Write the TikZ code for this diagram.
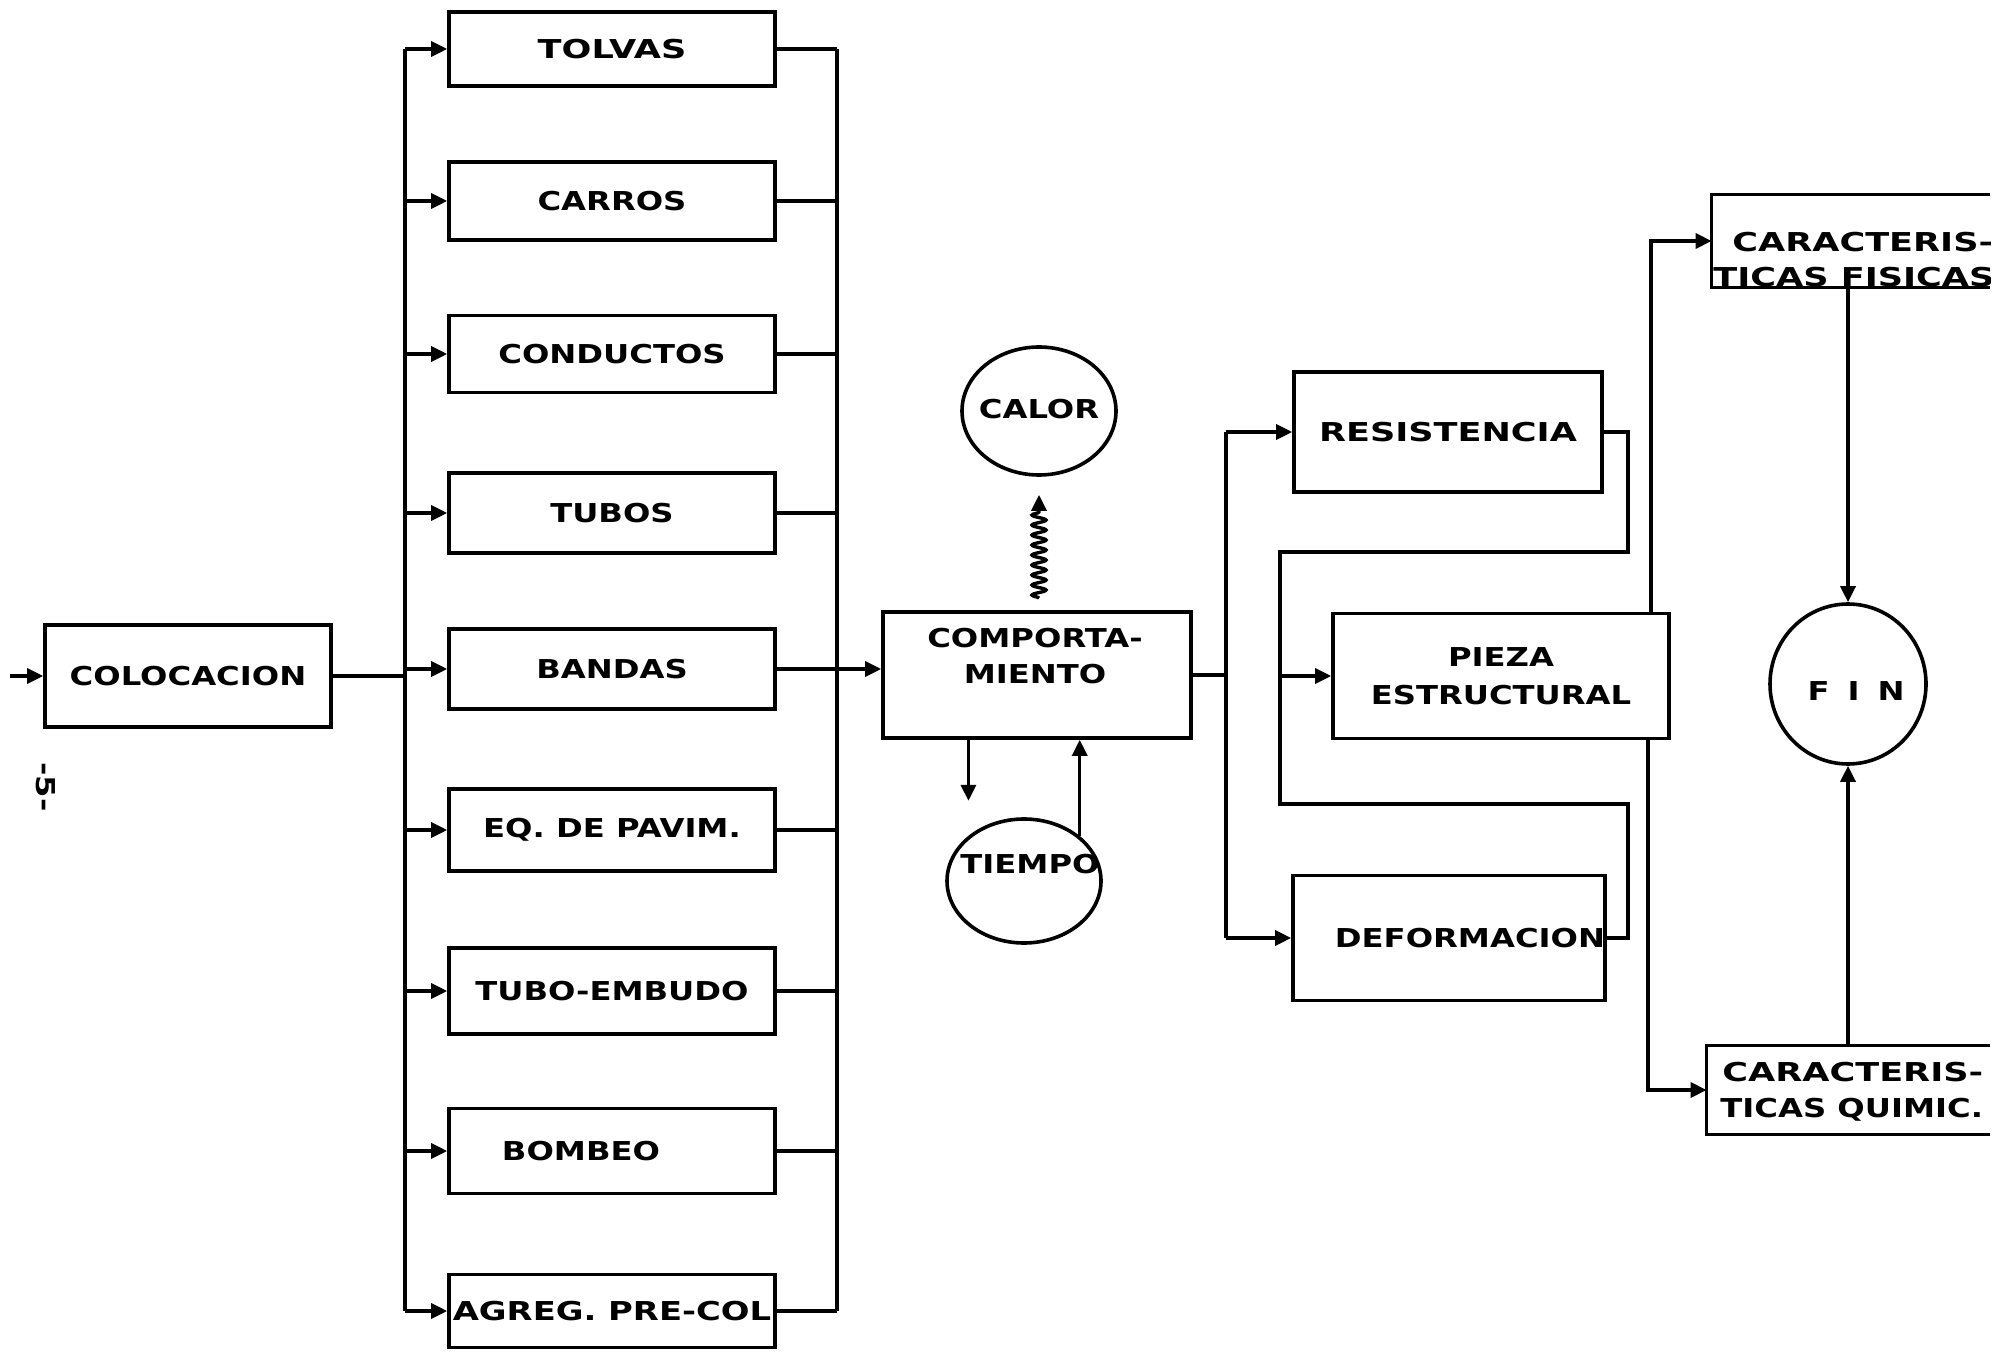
\documentclass[tikz,border=0pt]{standalone}
\usepackage{fontspec}
\newfontfamily\wf[FakeStretch=1.24]{DejaVu Sans Bold}
\newfontfamily\wfw[FakeStretch=1.35]{DejaVu Sans Bold}
\newfontfamily\wfm[FakeStretch=1.3]{DejaVu Sans Bold}
\usetikzlibrary{arrows.meta,decorations.pathmorphing,shapes.geometric,calc}
\begin{document}
\begin{tikzpicture}[x=0.5pt,y=-0.5pt,
  fnt/.style={font=\wf\fontsize{13pt}{18pt}\selectfont},
  fntw/.style={font=\wfw\fontsize{13pt}{18pt}\selectfont},
  box/.style={draw,line width=1.8pt,rectangle,inner sep=0pt,fnt},
  col/.style={box,minimum width=163pt},
  ring/.style={draw,line width=1.8pt,ellipse,inner sep=0pt},
  ln/.style={line width=1.7pt},
  arr/.style={ln,-{Triangle[length=8pt,width=7.5pt]}},
  txt/.style={inner sep=0pt,fnt}]
\useasboundingbox (0,0) rectangle (2013,1352);

% ---- left part ----
\node[box,minimum width=143pt,minimum height=51pt] (colo) at (188,676) {COLOCACION};
\coordinate (start) at (10,676);
\draw[arr] (start) -- (colo.west);
\node[txt,rotate=-90] (pnum) at (46,787) {-5-};

\node[col,minimum height=37pt,fntw] (tolvas) at (612,49) {TOLVAS};
\node[col,minimum height=39pt] (carros) at (612,201) {CARROS};
\node[col,minimum height=38.5pt] (cond) at (612,354) {CONDUCTOS};
\node[col,minimum height=40pt] (tubos) at (612,513) {TUBOS};
\node[col,minimum height=40pt] (bandas) at (612,669) {BANDAS};
\node[col,minimum height=41pt] (eq) at (612,830) {EQ. DE PAVIM.};
\node[col,minimum height=43pt] (tubemb) at (612,991) {TUBO-EMBUDO};
\node[col,minimum height=42.5pt] (bombeo) at (612,1151) {BOMBEO\hspace*{31pt}};
\node[col,minimum height=36.5pt,font=\wfm\fontsize{13pt}{18pt}\selectfont] (agreg) at (612,1311) {AGREG. PRE-COL};

\coordinate (lb) at (405,0);
\coordinate (rb) at (837,0);
\draw[ln] (colo.east) -- (colo.east -| lb);
\draw[ln] (lb |- tolvas.west) -- (lb |- agreg.west);
\draw[ln] (rb |- tolvas.east) -- (rb |- agreg.east);
\foreach \n in {tolvas,carros,cond,tubos,bandas,eq,tubemb,bombeo,agreg}{
  \draw[arr] (lb |- \n.west) -- (\n.west);
  \draw[ln] (\n.east) -- (\n.east -| rb);
}

% ---- centre ----
\node[box,minimum width=154pt,minimum height=63pt] (comp) at (1037,675) {};
\node[txt,align=center] (comptxt) at (1035,656) {COMPORTA-\\MIENTO};
\draw[arr] (bandas.east) -- (bandas.east -| comp.west);

\node[ring,minimum width=77pt,minimum height=64pt] (calor) at (1039,411) {};
\node[txt] (calortxt) at (1039,409) {CALOR};
\node[ring,minimum width=77pt,minimum height=62pt] (tiempo) at (1024,881) {};
\node[txt] (tiempotxt) at (1030,864) {TIEMPO};

\draw[arr,decorate,decoration={snake,amplitude=3.5pt,segment length=5pt,post length=7pt}]
  ($(calor.south |- comp.north)+(0,-12)$) -- ($(calor.south)+(0,18)$);
\draw[arr] ($(comp.south west)!0.28!(comp.south east)$) -- ++(0,61);
\draw[arr] (tiempo.north east) -- (tiempo.north east |- comp.south);

% ---- right part ----
\node[box,minimum width=154pt,minimum height=60pt,fntw] (res) at (1448,432) {RESISTENCIA};
\node[box,minimum width=168pt,minimum height=62.5pt,align=center,font=\wf\fontsize{13pt}{19pt}\selectfont] (pz) at (1501,676) {PIEZA\\ESTRUCTURAL};
\node[box,minimum width=155.5pt,minimum height=62.5pt] (def) at (1449,938) {\hspace*{21pt}DEFORMACION};

\coordinate (b2) at (1226,0);
\draw[ln] (comp.east) -- (comp.east -| b2);
\draw[ln] (b2 |- res.west) -- (b2 |- def.west);
\draw[arr] (b2 |- res.west) -- (res.west);
\draw[arr] (b2 |- def.west) -- (def.west);

\coordinate (lp1) at (1628,552);
\coordinate (lp2) at (1280,552);
\coordinate (lp3) at (1280,804);
\coordinate (lp4) at (1628,804);
\draw[ln] (res.east) -| (lp1) -- (lp2) -- (lp3) -- (lp4) |- (def.east);
\draw[arr] (lp2 |- pz.west) -- (pz.west);

% open boxes at the right edge
\node[minimum width=139pt,minimum height=46pt,inner sep=0pt] (fis) at (1851,241) {};
\draw[line width=1.8pt] (fis.north east) -- (fis.north west) -- (fis.south west) -- (fis.south east);
\begin{scope}
  \clip (1700,190) rectangle (1990,300);
  \node[txt,anchor=west,fntw] (fis1) at (1732,242) {CARACTERIS-};
  \node[txt,anchor=west,fntw] (fis2) at (1713,277) {TICAS FISICAS};
\end{scope}

\node[minimum width=141.5pt,minimum height=44pt,inner sep=0pt] (qui) at (1848.5,1090) {};
\draw[line width=1.8pt] (qui.north east) -- (qui.north west) -- (qui.south west) -- (qui.south east);
\node[txt,anchor=west,fntw] (qui1) at (1722,1072) {CARACTERIS-};
\node[txt,anchor=west] (qui2) at (1720,1110) {TICAS QUIMIC.};

\node[ring,minimum width=78pt,minimum height=80pt] (fin) at (1848,684) {};
\node[txt] (fintxt) at (1856,691) {F\hspace{9pt}I\hspace{9pt}N};

\coordinate (upx) at (1651,0);
\coordinate (dnx) at (1648,0);
\draw[arr] (upx |- pz.north) |- (fis.west);
\draw[arr] (dnx |- pz.south) |- (qui.west);
\draw[arr] (fin.north |- fis.south) -- (fin.north);
\draw[arr] (fin.south |- qui.north) -- (fin.south);
\end{tikzpicture}
\end{document}
